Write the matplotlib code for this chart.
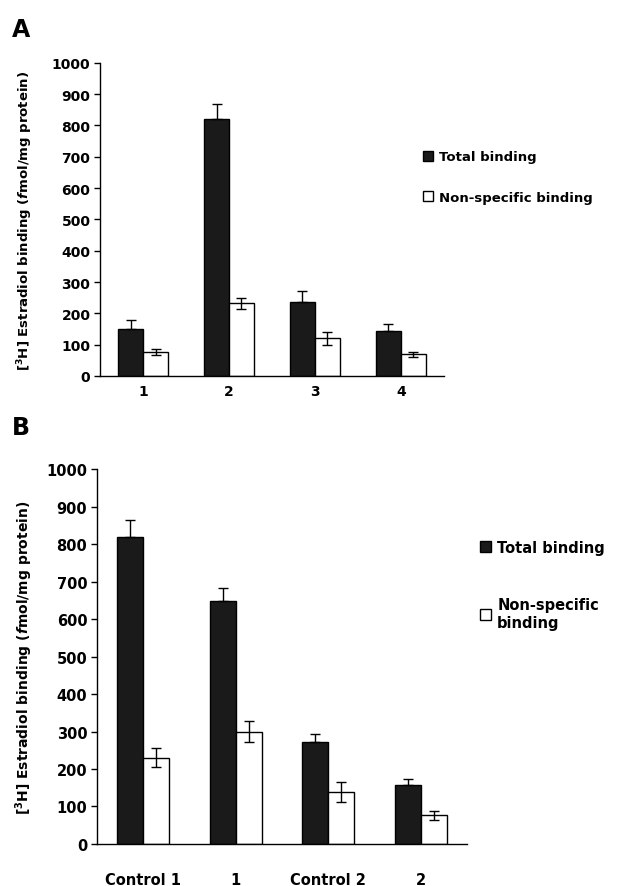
import matplotlib
matplotlib.use("Agg")
import matplotlib.pyplot as plt
import numpy as np
from matplotlib.patches import Patch

plt.rcParams['font.family'] = ['DejaVu Sans']
plt.rcParams['font.weight'] = 'bold'
plt.rcParams['mathtext.fontset'] = 'custom'
plt.rcParams['mathtext.rm'] = 'DejaVu Sans:bold'
plt.rcParams['mathtext.bf'] = 'DejaVu Sans:bold'
plt.rcParams['mathtext.it'] = 'DejaVu Sans:bold:italic'
plt.rcParams['mathtext.bfit'] = 'DejaVu Sans:bold:italic'

# panel A
labels_a = ['1', '2', '3', '4']
total_a = [150, 820, 235, 143]
total_a_err = [30, 50, 35, 22]
nonspec_a = [77, 232, 120, 70]
nonspec_a_err = [10, 17, 22, 8]

# panel B
labels_b = ['Control 1', '1', 'Control 2', '2']
total_b = [820, 648, 272, 157]
total_b_err = [45, 35, 22, 15]
nonspec_b = [230, 300, 138, 77]
nonspec_b_err = [25, 28, 27, 12]

ylabel = r'[$^\mathbf{3}$H] Estradiol binding ($\mathbfit{f}$mol/mg protein)'

fig = plt.figure(figsize=(6.18, 8.87), dpi=100)
ax_a = fig.add_axes([0.162, 0.575, 0.556, 0.353])
ax_b = fig.add_axes([0.157, 0.0474, 0.599, 0.4226])


def draw(ax, labels, tot, tot_err, ns, ns_err, width, pad, fs):
    x = np.arange(len(labels))
    ax.bar(x - width / 2, tot, width, color='#1a1a1a', edgecolor='black', lw=1,
           yerr=[np.zeros(len(tot)), tot_err], capsize=3.5,
           error_kw=dict(ecolor='black', elinewidth=1, capthick=1))
    ax.bar(x + width / 2, ns, width, color='white', edgecolor='black', lw=1,
           yerr=ns_err, capsize=3.5,
           error_kw=dict(ecolor='black', elinewidth=1, capthick=1))
    ax.set_xlim(-0.5, len(labels) - 0.5)
    ax.set_ylim(0, 1000)
    ax.set_yticks(np.arange(0, 1001, 100))
    ax.set_xticks(x)
    ax.set_xticklabels(labels, fontsize=fs, fontweight='bold')
    ax.tick_params(axis='x', length=0, pad=pad)
    ax.tick_params(axis='y', length=4, width=1, labelsize=fs, pad=3)
    for s in ['top', 'right']:
        ax.spines[s].set_visible(False)
    for s in ['left', 'bottom']:
        ax.spines[s].set_linewidth(1)
    for t in ax.get_yticklabels():
        t.set_fontweight('bold')


draw(ax_a, labels_a, total_a, total_a_err, nonspec_a, nonspec_a_err, 0.29, 6, 10)
draw(ax_b, labels_b, total_b, total_b_err, nonspec_b, nonspec_b_err, 0.28, 20, 10.5)

ax_a.set_ylabel(ylabel, fontsize=9.5, fontweight='bold', labelpad=12)
ax_b.set_ylabel(ylabel, fontsize=10, fontweight='bold', labelpad=8)

handles = [Patch(facecolor='#1a1a1a', edgecolor='black'),
           Patch(facecolor='white', edgecolor='black')]
fig.legend(handles, ['Total binding', 'Non-specific binding'],
           loc='upper left', bbox_to_anchor=(0.665, 0.843), frameon=False,
           fontsize=9.5, handlelength=0.8, handleheight=0.8, handletextpad=0.4,
           labelspacing=2.1)
fig.legend(handles, ['Total binding', 'Non-specific\nbinding'],
           loc='upper left', bbox_to_anchor=(0.755, 0.405), frameon=False,
           fontsize=10.5, handlelength=0.8, handleheight=0.8, handletextpad=0.4,
           labelspacing=2.9)

fig.text(0.02, 0.966, 'A', fontsize=17, fontweight='bold', va='center')
fig.text(0.02, 0.517, 'B', fontsize=17, fontweight='bold', va='center')

fig.savefig('out.png', dpi=100)
